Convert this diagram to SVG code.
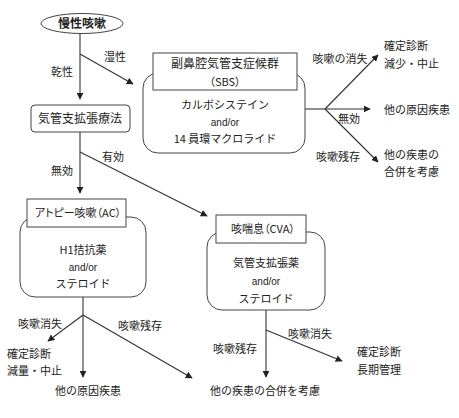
<svg xmlns="http://www.w3.org/2000/svg" width="459" height="418" viewBox="0 0 459 418">
<style>
text{font-family:"Noto Sans CJK JP","Liberation Sans",sans-serif;fill:#222;font-size:11px}
.c{text-anchor:middle}
.b{fill:#fff;stroke:#444;stroke-width:1}
.l{fill:none;stroke:#333;stroke-width:1.1}
.t{font-size:12px}
.e{font-family:"Liberation Sans",sans-serif;font-size:10px}
.p{font-feature-settings:"palt"}
</style>
<defs>
<marker id="a" viewBox="0 0 10 10" refX="9" refY="5" markerWidth="7" markerHeight="7" markerUnits="userSpaceOnUse" orient="auto">
<path d="M0,0L10,5L0,10z" fill="#222"/>
</marker>
</defs>
<rect width="459" height="418" fill="#fff"/>
<g id="connectors">
<path class="l" d="M80,34V99" marker-end="url(#a)"/>
<path class="l" d="M80,54L133,84" marker-end="url(#a)"/>
<path class="l" d="M80,132V193" marker-end="url(#a)"/>
<path class="l" d="M80,152L207,216" marker-end="url(#a)"/>
<path class="l" d="M305,109H325"/>
<path class="l" d="M325,109L378,55" marker-end="url(#a)"/>
<path class="l" d="M325,109H370" marker-end="url(#a)"/>
<path class="l" d="M325,109L378,162" marker-end="url(#a)"/>
<path class="l" d="M83,297V377" marker-end="url(#a)"/>
<path class="l" d="M83,315L48,341" marker-end="url(#a)"/>
<path class="l" d="M83,315L192,378" marker-end="url(#a)"/>
<path class="l" d="M266,310V377" marker-end="url(#a)"/>
<path class="l" d="M266,330L342,361" marker-end="url(#a)"/>
<text class="c" x="115" y="61">湿性</text>
<text class="c" x="62" y="76">乾性</text>
<text class="c" x="113" y="161">有効</text>
<text class="c" x="62" y="175">無効</text>
<text class="c" x="340" y="63">咳嗽の消失</text>
<text class="c" x="349" y="123">無効</text>
<text class="c" x="338" y="161">咳嗽残存</text>
<text class="c" x="40" y="328">咳嗽消失</text>
<text class="c" x="140" y="330">咳嗽残存</text>
<text class="c" x="310" y="338">咳嗽消失</text>
<text class="c" x="235" y="353">咳嗽残存</text>
</g>
<g id="start">
<ellipse class="b" cx="82" cy="23.5" rx="41" ry="10"/>
<text class="c" x="82" y="28" style="font-weight:bold;font-size:12px">慢性咳嗽</text>
</g>
<g id="bronchodilator-therapy">
<rect class="b" x="31" y="105" width="99" height="27" rx="4"/>
<text class="c t" x="80" y="123">気管支拡張療法</text>
</g>
<g id="sbs">
<rect class="b" x="143" y="73" width="162" height="80" rx="15"/>
<rect class="b" x="153" y="53" width="144" height="37"/>
<text class="c t" x="225" y="68">副鼻腔気管支症候群</text>
<text class="c p" x="225" y="86">（SBS）</text>
<text class="c" x="225" y="109">カルボシステイン</text>
<text class="c e" x="225" y="126">and/or</text>
<text class="c" x="225" y="143">14 員環マクロライド</text>
</g>
<g id="sbs-outcomes">
<text x="384" y="50">確定診断</text>
<text x="384" y="68">減少・中止</text>
<text x="384" y="114">他の原因疾患</text>
<text x="384" y="159">他の疾患の</text>
<text x="384" y="176">合併を考慮</text>
</g>
<g id="ac">
<rect class="b" x="20" y="217" width="126" height="80" rx="15"/>
<rect class="b" x="27" y="199" width="99" height="28"/>
<text class="c p" x="78" y="217">アトピー咳嗽（AC）</text>
<text class="c" x="83" y="254">H1拮抗薬</text>
<text class="c e" x="83" y="271">and/or</text>
<text class="c" x="83" y="288">ステロイド</text>
</g>
<g id="cva">
<rect class="b" x="207" y="232" width="118" height="78" rx="15"/>
<rect class="b" x="216" y="215" width="90" height="28"/>
<text class="c p" x="263" y="233">咳喘息（CVA）</text>
<text class="c" x="266" y="267">気管支拡張薬</text>
<text class="c e" x="266" y="285">and/or</text>
<text class="c" x="266" y="303">ステロイド</text>
</g>
<g id="ac-outcomes">
<text x="7" y="358">確定診断</text>
<text x="7" y="375">減量・中止</text>
<text class="c" x="88" y="395">他の原因疾患</text>
</g>
<g id="cva-outcomes">
<text x="357" y="356">確定診断</text>
<text x="357" y="374">長期管理</text>
<text class="c" x="265" y="395">他の疾患の合併を考慮</text>
</g>
</svg>
